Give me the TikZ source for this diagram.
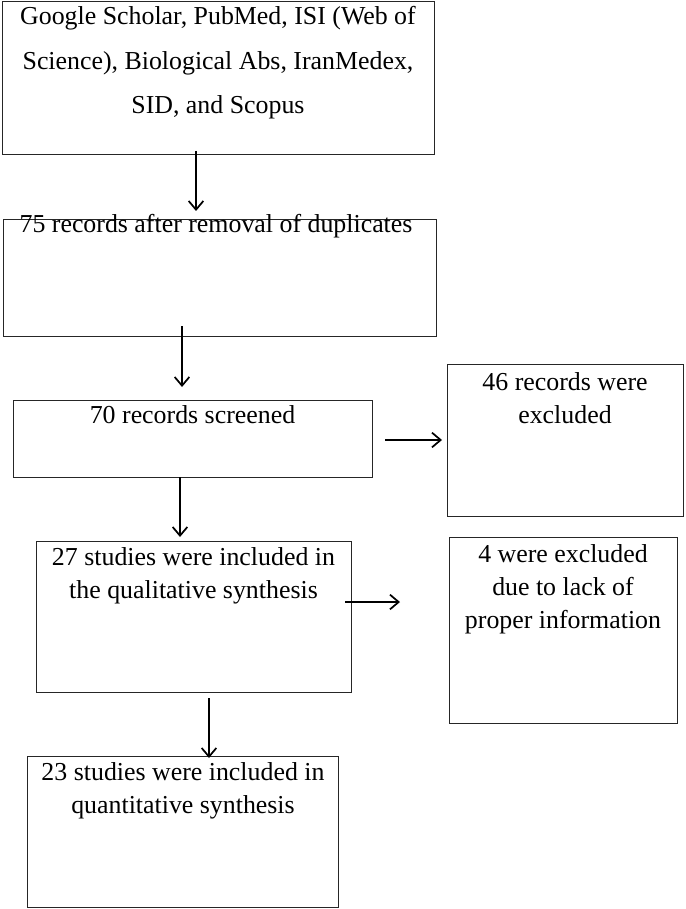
\documentclass[tikz,border=0pt]{standalone}
\usepackage{fontspec}
\setmainfont{Liberation Serif}
\usetikzlibrary{arrows.meta}
\begin{document}
\begin{tikzpicture}[x=0.75pt,y=-0.75pt,
  box/.style 2 args={draw=black!85, line width=1.1pt, anchor=north west, inner sep=0pt,
    minimum width=#1*0.75pt, minimum height=#2*0.75pt},
  txt/.style={anchor=base, align=center, inner sep=0pt,
    font=\fontsize{19.4pt}{24.75pt}\selectfont},
  txtwide/.style={anchor=base, align=center, inner sep=0pt,
    font=\fontsize{19.4pt}{33.4pt}\selectfont},
  arr/.style={draw=black, line width=1.3pt, -{Straight Barb[length=6.5pt,width=11pt,line width=1.3pt]}}]
\useasboundingbox (0,0) rectangle (685,909);
% boxes
\node[box={432}{153}] (b1) at (2,1) {};
\node[box={433}{117}] (b2) at (3,219) {};
\node[box={359}{77}]  (b3) at (13,400) {};
\node[box={236}{152}] (b4) at (447,364) {};
\node[box={315}{151}] (b5) at (36,541) {};
\node[box={228}{186}] (b6) at (449,537) {};
\node[box={311}{151}] (b7) at (27,756) {};
% texts (anchor = baseline of the last line)
\node[txtwide] (t1) at (218,114) {Google Scholar, PubMed, ISI (Web of\\Science), Biological Abs, IranMedex,\\SID, and Scopus};
\node[txt] (t2) at (216,233) {75 records after removal of duplicates};
\node[txt] (t3) at (192.5,423) {70 records screened};
\node[txt] (t4) at (565,423) {46 records were\\excluded};
\node[txt] (t5) at (193.5,598) {27 studies were included in\\the qualitative synthesis};
\node[txt] (t6) at (563,628) {4 were excluded\\due to lack of\\proper information};
\node[txt] (t7) at (183,813) {23 studies were included in\\quantitative synthesis};
% connector ends
\coordinate (a1s) at (196,151); \coordinate (a1e) at (196,211);
\coordinate (a2s) at (182,326); \coordinate (a2e) at (182,387);
\coordinate (a3s) at (180,477); \coordinate (a3e) at (180,537);
\coordinate (a4s) at (385,440); \coordinate (a4e) at (442,440);
\coordinate (a5s) at (345,602); \coordinate (a5e) at (400,602);
\coordinate (a6s) at (209,698); \coordinate (a6e) at (209,758);
\draw[arr] (a1s) -- (a1e);
\draw[arr] (a2s) -- (a2e);
\draw[arr] (a3s) -- (a3e);
\draw[arr] (a4s) -- (a4e);
\draw[arr] (a5s) -- (a5e);
\draw[arr] (a6s) -- (a6e);
\end{tikzpicture}
\end{document}
